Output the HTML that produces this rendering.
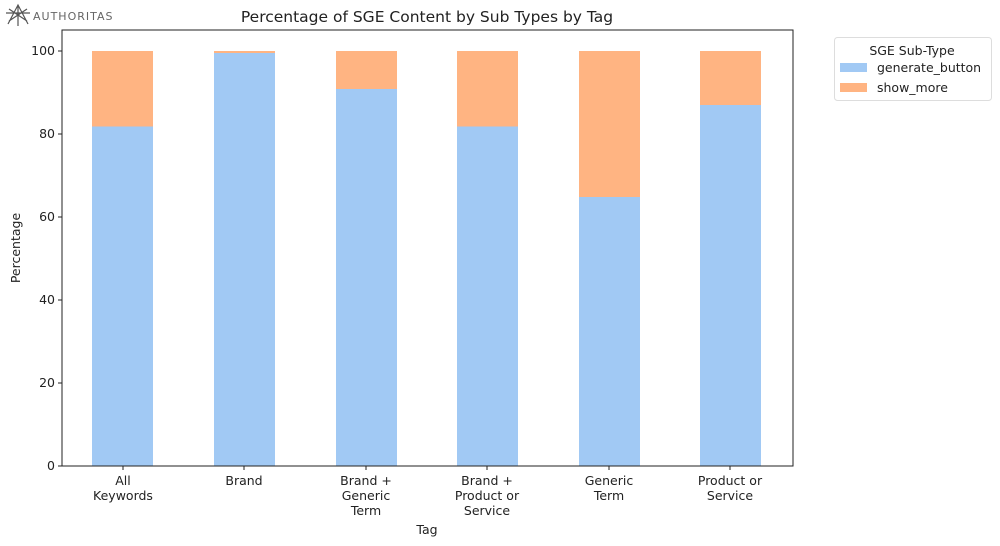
<!DOCTYPE html>
<html><head><style>body{margin:0;background:#fff}svg{display:block}text{font-family:"DejaVu Sans","Liberation Sans",sans-serif;fill:#222}</style></head>
<body>
<svg width="1000" height="546" xmlns="http://www.w3.org/2000/svg">
<g stroke="#555" fill="none" stroke-width="1.2"><path d="M8 24 L18 5 L28 24 M6 13 L30 13 M9 21 L27 9 M27 21 L9 9 M18 5 L18 26"/></g>
<text x="33" y="20" font-size="11" style="fill:#666;letter-spacing:1px">AUTHORITAS</text>
<text x="427" y="22" font-size="15.5" text-anchor="middle">Percentage of SGE Content by Sub Types by Tag</text>
<g>
<rect x="92" y="51.0" width="61" height="75.5" fill="#ffb482"/><rect x="92" y="126.5" width="61" height="339.5" fill="#a1c9f4"/>
<rect x="214" y="51.0" width="61" height="2" fill="#ffb482"/><rect x="214" y="53" width="61" height="413" fill="#a1c9f4"/>
<rect x="336" y="51.0" width="61" height="38" fill="#ffb482"/><rect x="336" y="89" width="61" height="377" fill="#a1c9f4"/>
<rect x="457" y="51.0" width="61" height="75.5" fill="#ffb482"/><rect x="457" y="126.5" width="61" height="339.5" fill="#a1c9f4"/>
<rect x="579" y="51.0" width="61" height="146" fill="#ffb482"/><rect x="579" y="197" width="61" height="269" fill="#a1c9f4"/>
<rect x="700" y="51.0" width="61" height="54" fill="#ffb482"/><rect x="700" y="105" width="61" height="361" fill="#a1c9f4"/>
</g>
<rect x="62" y="30" width="731" height="436" fill="none" stroke="#222" stroke-width="1"/>
<g stroke="#222"><line x1="58" y1="466" x2="62" y2="466"/><line x1="58" y1="383" x2="62" y2="383"/><line x1="58" y1="300" x2="62" y2="300"/><line x1="58" y1="217" x2="62" y2="217"/><line x1="58" y1="134" x2="62" y2="134"/><line x1="58" y1="51" x2="62" y2="51"/>
<line x1="123" y1="466" x2="123" y2="470"/><line x1="244" y1="466" x2="244" y2="470"/><line x1="366" y1="466" x2="366" y2="470"/><line x1="487" y1="466" x2="487" y2="470"/><line x1="609" y1="466" x2="609" y2="470"/><line x1="730" y1="466" x2="730" y2="470"/></g>
<g font-size="12.5" text-anchor="end"><text x="55" y="470">0</text><text x="55" y="387">20</text><text x="55" y="304">40</text><text x="55" y="221">60</text><text x="55" y="138">80</text><text x="55" y="55">100</text></g>
<g font-size="12.5" text-anchor="middle">
<text x="123" y="485">All</text><text x="123" y="500">Keywords</text>
<text x="244" y="485">Brand</text>
<text x="366" y="485">Brand +</text><text x="366" y="500">Generic</text><text x="366" y="515">Term</text>
<text x="487" y="485">Brand +</text><text x="487" y="500">Product or</text><text x="487" y="515">Service</text>
<text x="609" y="485">Generic</text><text x="609" y="500">Term</text>
<text x="730" y="485">Product or</text><text x="730" y="500">Service</text>
<text x="427" y="534">Tag</text>
<text transform="translate(20 248) rotate(-90)">Percentage</text>
</g>
<rect x="834.5" y="37.5" width="157" height="63" rx="3" fill="#fff" stroke="#ddd"/>
<text x="912" y="55" font-size="12.5" text-anchor="middle">SGE Sub-Type</text>
<rect x="840" y="63" width="27" height="9" fill="#a1c9f4"/><text x="877" y="72" font-size="12.5">generate_button</text>
<rect x="840" y="83" width="27" height="9" fill="#ffb482"/><text x="877" y="92" font-size="12.5">show_more</text>
</svg>
</body></html>
